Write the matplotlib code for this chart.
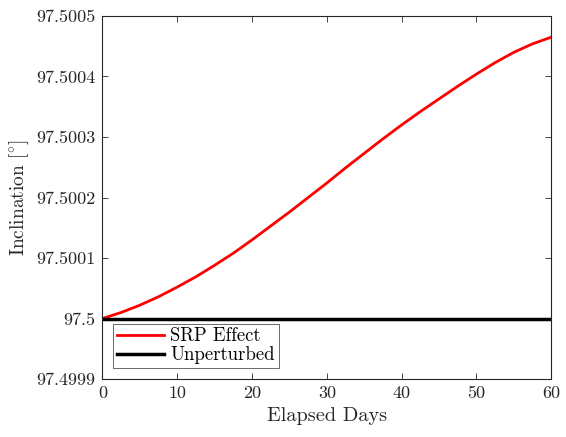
import matplotlib
matplotlib.use("Agg")
import matplotlib.pyplot as plt
from matplotlib.ticker import FixedLocator, FixedFormatter

plt.rcParams["font.family"] = "serif"
plt.rcParams["font.serif"] = ["cmr10"]
plt.rcParams["mathtext.fontset"] = "cm"
plt.rcParams["axes.formatter.use_mathtext"] = True

# Elapsed time [days] and inclination change from 97.5 deg, in units of 1e-4 deg
days = [0, 2.5, 5, 7.5, 10, 12.5, 15, 17.5, 20, 22.5, 25, 27.5, 30,
        32.5, 35, 37.5, 40, 42.5, 45, 47.5, 50, 52.5, 55, 57.5, 60]
srp_delta_1e4 = [0, 0.10, 0.22, 0.36, 0.52, 0.69, 0.88, 1.08, 1.30, 1.53,
                 1.76, 2.00, 2.24, 2.49, 2.73, 2.97, 3.20, 3.42, 3.63,
                 3.84, 4.04, 4.23, 4.40, 4.54, 4.65]
base_inclination = 97.5
unperturbed = [base_inclination for _ in days]
srp_effect = [base_inclination + d * 1e-4 for d in srp_delta_1e4]

xticks = [0, 10, 20, 30, 40, 50, 60]
yticks = [97.4999, 97.5, 97.5001, 97.5002, 97.5003, 97.5004, 97.5005]
ytick_labels = ["97.4999", "97.5", "97.5001", "97.5002", "97.5003",
                "97.5004", "97.5005"]

fig = plt.figure(figsize=(5.66, 4.37), dpi=100)
ax = fig.add_axes([0.181, 0.1327, 0.793, 0.8307])

ax.plot(days, srp_effect, color="#ff0000", lw=2.0, label="SRP Effect",
        solid_joinstyle="round")
ax.plot(days, unperturbed, color="black", lw=2.5, label="Unperturbed")

ax.set_xlim(0, 60)
ax.set_ylim(97.4999, 97.5005)
ax.xaxis.set_major_locator(FixedLocator(xticks))
ax.set_xticklabels([str(t) for t in xticks])
ax.yaxis.set_major_locator(FixedLocator(yticks))
ax.yaxis.set_major_formatter(FixedFormatter(ytick_labels))

ax.tick_params(direction="in", length=4, width=0.6, labelsize=13,
               colors="#262626", top=True, right=True, pad=5)
for s in ax.spines.values():
    s.set_linewidth(0.8)
    s.set_color("#262626")

ax.set_xlabel("Elapsed Days", fontsize=14.6, color="#262626")
ax.set_ylabel(r"Inclination [$^{\circ}$]", fontsize=14, color="#262626")

leg = ax.legend(loc="lower left", bbox_to_anchor=(0.024, 0.03),
                fontsize=13.5, frameon=True, fancybox=False,
                edgecolor="#262626", borderpad=0.2, labelspacing=0.05,
                handlelength=2.5, handletextpad=0.35, borderaxespad=0)
leg.get_frame().set_linewidth(0.6)

fig.savefig("out.png", dpi=100)
